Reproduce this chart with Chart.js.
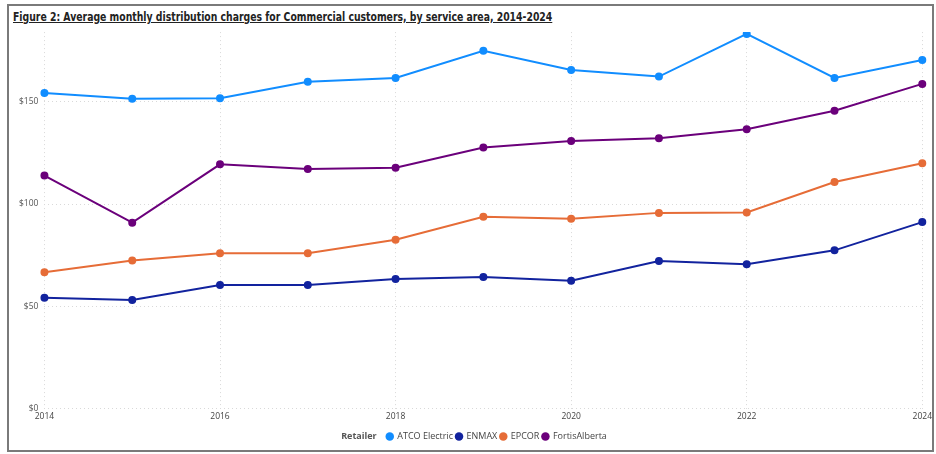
<!DOCTYPE html>
<html>
<head>
<meta charset="utf-8">
<script src="https://cdn.jsdelivr.net/npm/chart.js@4"></script>
<style>
  body { margin: 0; background: #fff; overflow: hidden; }
  #frame {
    position: absolute; left: 7px; top: 4px; width: 923px; height: 444px;
    border: 2px solid #7a7a7a; background: #fff;
  }
  #title {
    position: absolute; left: 4px; top: 3px;
    font: bold 12.5px "DejaVu Sans Condensed", "DejaVu Sans", sans-serif;
    color: #222; text-decoration: underline; white-space: nowrap;
    transform-origin: left top;
  }
  #chart { position: absolute; left: 0; top: 15px; }
</style>
</head>
<body>
<div id="frame">
  <div id="title">Figure 2: Average monthly distribution charges for Commercial customers, by service area, 2014-2024</div>
  <canvas id="chart" width="926" height="430"></canvas>
</div>
<script>
// years on the x axis
const years = ["2014", "2015", "2016", "2017", "2018", "2019", "2020", "2021", "2022", "2023", "2024"];

// average monthly distribution charges ($)
const atco = [154.3, 151.4, 151.7, 159.7, 161.6, 174.9, 165.5, 162.3, 183.1, 161.6, 170.4];
const enmax = [54.2, 53.2, 60.5, 60.5, 63.4, 64.4, 62.5, 72.2, 70.6, 77.4, 91.2];
const epcor = [66.7, 72.4, 76.0, 76.0, 82.6, 93.8, 92.8, 95.7, 95.9, 110.8, 119.9];
const fortis = [113.9, 90.9, 119.4, 117.1, 117.8, 127.6, 130.8, 132.1, 136.6, 145.6, 158.7];

const seriesNames = ["ATCO Electric", "ENMAX", "EPCOR", "FortisAlberta"];
const seriesColors = ["#118DFF", "#12239E", "#E66C37", "#6B007B"];
const yTicks = [0, 50, 100, 150];

const seriesData = [atco, enmax, epcor, fortis];

// squeeze the title to the width it has in the report
const title = document.getElementById("title");
title.style.transform = "scaleX(" + (539 / title.scrollWidth) + ")";

function makeDataset(i) {
    return {
        label: seriesNames[i],
        data: seriesData[i],
        borderColor: seriesColors[i],
        backgroundColor: seriesColors[i],
        borderWidth: 2,
        pointRadius: 3,
        pointHoverRadius: 3.5,
        tension: 0,
    };
}

// draws the bold "Retailer" caption in front of the legend items
const legendCaption = {
    id: "legendCaption",
    afterDraw(chart) {
        const boxes = chart.legend && chart.legend.legendHitBoxes;
        if (!boxes || !boxes.length) return;
        const b = boxes[0];
        const ctx = chart.ctx;
        ctx.save();
        ctx.font = "bold 9px 'Open Sans', sans-serif";
        ctx.fillStyle = "#555";
        ctx.textBaseline = "middle";
        ctx.fillText("Retailer", b.left, b.top + b.height / 2);
        ctx.restore();
    },
};

const gridStyle = {
    color: "#d9d9d9",
    lineWidth: 1,
    drawTicks: false,
};

new Chart(document.getElementById("chart"), {
    type: "line",
    data: {
        labels: years,
        datasets: [0, 1, 2, 3].map(makeDataset),
    },
    options: {
        responsive: false,
        animation: false,
        layout: { padding: { left: 4, right: 0, top: 2, bottom: 0 } },
        plugins: {
            legend: {
                position: "bottom",
                labels: {
                    usePointStyle: true,
                    pointStyle: "circle",
                    boxWidth: 6,
                    boxHeight: 6,
                    padding: 3,
                    color: "#444",
                    font: { family: "'Open Sans', sans-serif", size: 9 },
                    generateLabels(chart) {
                        const items = Chart.defaults.plugins.legend.labels.generateLabels(chart);
                        items.forEach(it => { it.lineWidth = 0; });
                        // placeholder slot for the "Retailer" caption
                        items.unshift({
                            text: "Retailer",
                            fillStyle: "rgba(0,0,0,0)",
                            strokeStyle: "rgba(0,0,0,0)",
                            fontColor: "rgba(0,0,0,0)",
                            lineWidth: 0,
                            pointStyle: "circle",
                            hidden: false,
                            datasetIndex: -1,
                        });
                        return items;
                    },
                },
                onClick: () => {},
            },
            tooltip: { enabled: false },
        },
        scales: {
            x: {
                grid: Object.assign({}, gridStyle),
                border: { display: false, dash: [1, 3] },
                afterFit(scale) { scale.height += 4; },
                ticks: {
                    color: "#444",
                    font: { family: "'Open Sans', sans-serif", size: 8.5 },
                    maxRotation: 0,
                    autoSkip: false,
                    padding: 3,
                    callback(value, index) {
                        return index % 2 === 0 ? years[index] : null;
                    },
                },
            },
            y: {
                min: 0,
                max: 184,
                grid: Object.assign({}, gridStyle),
                border: { display: false, dash: [1, 3] },
                afterBuildTicks(scale) {
                    scale.ticks = yTicks.map(v => ({ value: v }));
                },
                ticks: {
                    color: "#555",
                    font: { family: "'Open Sans', sans-serif", size: 8.5 },
                    padding: 6,
                    callback: v => "$" + v,
                },
            },
        },
    },
    plugins: [legendCaption],
});
</script>
</body>
</html>
